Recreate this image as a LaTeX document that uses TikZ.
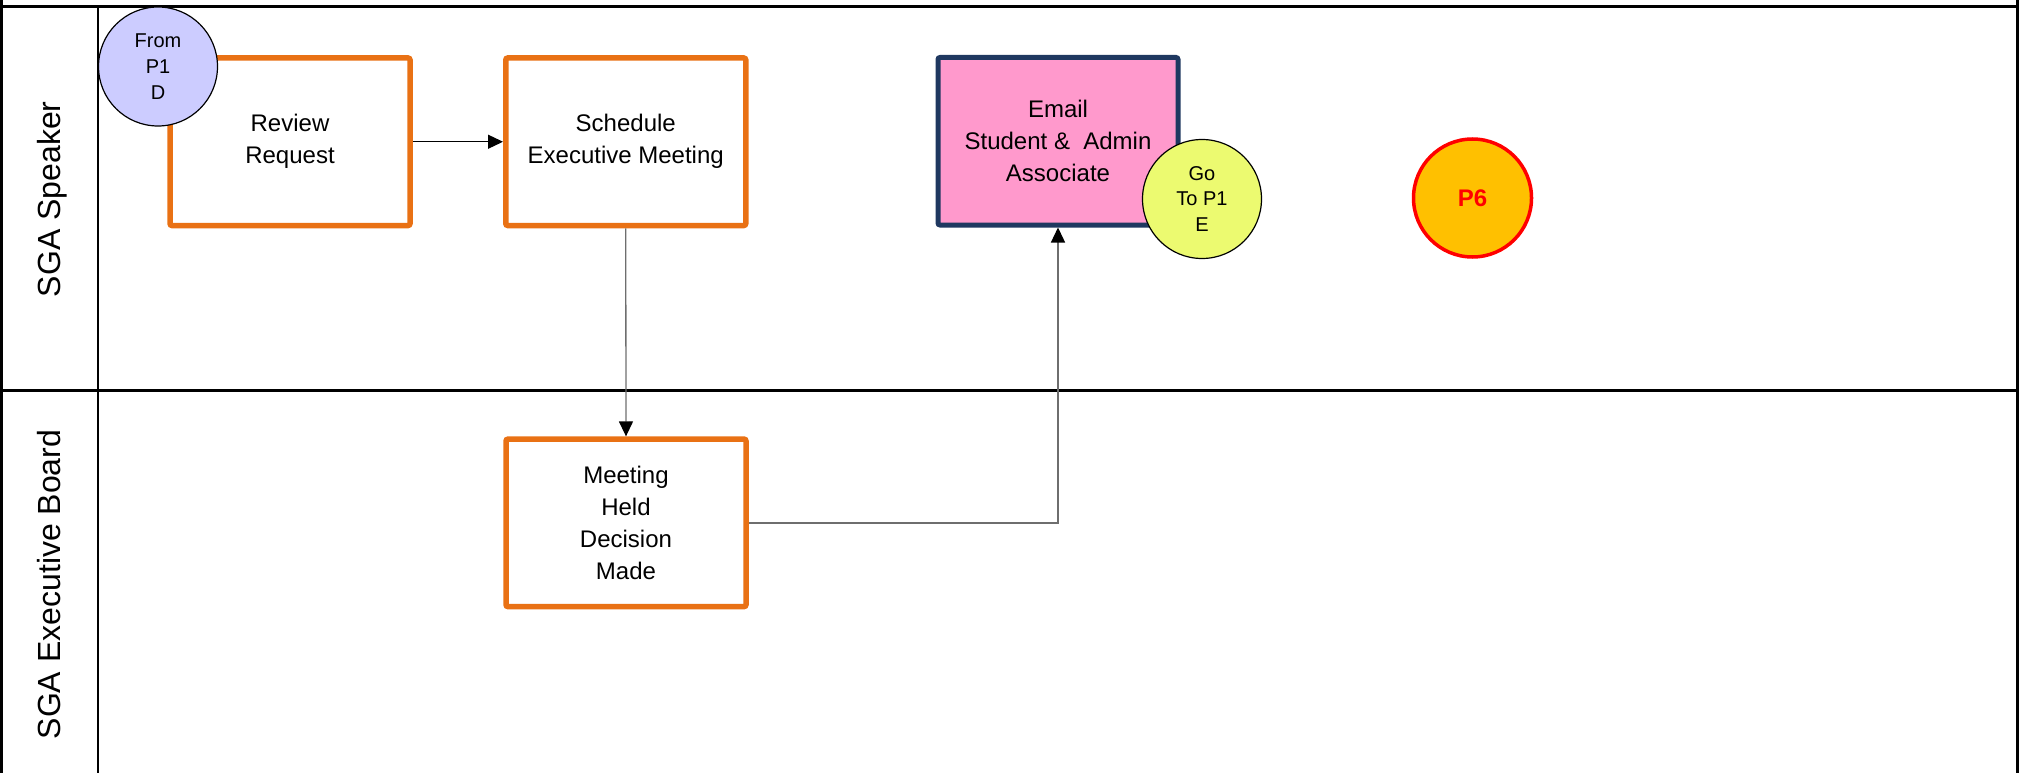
\documentclass[tikz,border=0pt]{standalone}
\usepackage{fontspec}
\setmainfont{Liberation Sans}
\usetikzlibrary{arrows.meta}

\definecolor{taskorange}{RGB}{233,113,20}
\definecolor{navyedge}{RGB}{31,56,96}
\definecolor{mailpink}{RGB}{255,153,204}
\definecolor{fromlilac}{RGB}{204,204,255}
\definecolor{goyellow}{RGB}{236,250,112}
\definecolor{pagegold}{RGB}{255,192,0}
\definecolor{linkgray}{RGB}{110,110,110}

\tikzset{
  lane/.style={line width=2.4pt, black},
  lanelabel/.style={rotate=90, anchor=base, inner sep=0pt,
    font=\fontsize{32}{38}\selectfont},
  task/.style={draw=taskorange, line width=5.5pt, fill=white,
    rounded corners=2pt, minimum width=240pt, minimum height=167.5pt,
    inner sep=0pt, align=center, font=\fontsize{24}{32}\selectfont},
  mailtask/.style={task, draw=navyedge, line width=5pt, fill=mailpink},
  offpage/.style={circle, draw=black, line width=1.2pt, minimum size=119pt,
    inner sep=0pt, align=center, font=\fontsize{20}{25.8}\selectfont},
  pagemark/.style={circle, draw=red, line width=3.5pt, fill=pagegold,
    minimum size=118pt, inner sep=0pt, text=red,
    font=\fontsize{24}{28}\selectfont\bfseries},
  flowblack/.style={line width=1.3pt, black,
    -{Triangle[length=15pt, width=14pt]}},
  flowgray/.style={line width=1.3pt, linkgray,
    -{Triangle[length=15pt, width=14pt, color=black]}}
}

\begin{document}
\begin{tikzpicture}[x=1pt, y=-1pt]
\useasboundingbox (0,0) rectangle (2021,773);

% swimlane frame
\draw[lane] (1.5,0) -- (1.5,773);
\draw[lane] (2017.5,0) -- (2017.5,773);
\draw[lane] (1.5,6.5) -- (2017.5,6.5);
\draw[lane] (97.7,6.5) -- (97.7,773);
\draw[lane] (1.5,390.5) -- (2017.5,390.5);

% lane titles
\node[lanelabel] (speaker) at (60,199.2) {SGA Speaker};
\node[lanelabel] (board) at (60,584.5) {SGA Executive Board};

% process steps
\node[task] (rev) at (290,141.75) {Review\\Request};
\node[task] (sch) at (625.75,141.75) {Schedule\\Executive Meeting};
\node[mailtask] (mail) at (1058,141.25) {Email\\Student \&\ \ Admin\\Associate};
\node[task] (meet) at (626,522.85) {Meeting\\Held\\Decision\\Made};

% flow
\draw[flowblack] (rev.east) -- (sch.west);
\draw[flowgray] (sch.south) -- (meet.north);
\draw[flowgray] (meet.east) -| (mail.south);

% off-page connectors and page marker
\node[offpage, fill=fromlilac] (from) at (158,66.5) {From\\P1\\D};
\node[offpage, fill=goyellow] (goto) at (1202,199) {Go\\To P1\\E};
\node[pagemark] (p6) at (1472.5,198) {P6};
\end{tikzpicture}
\end{document}
